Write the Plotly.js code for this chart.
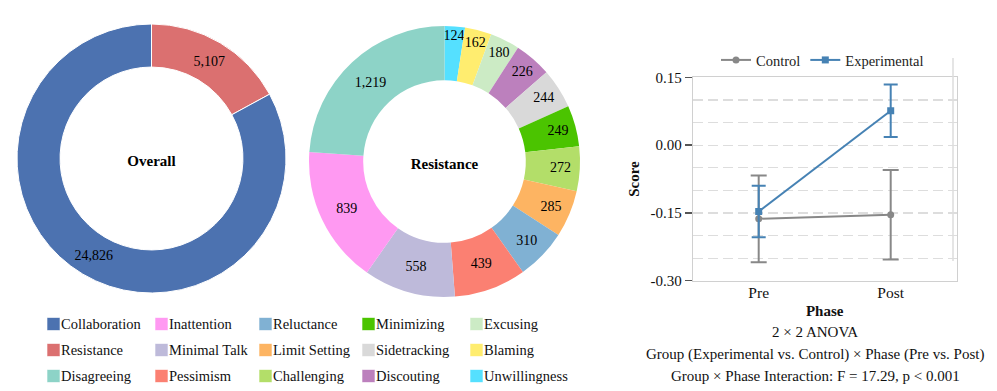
<!DOCTYPE html>
<html>
<head>
<meta charset="utf-8">
<script src="https://cdn.plot.ly/plotly-3.0.1.min.js"></script>
<style>
  html, body { margin: 0; padding: 0; background: #fff; }
  #chart { width: 997px; height: 391px; }
</style>
</head>
<body>
<div id="chart"></div>
<script>
var W = 997, H = 391;
var serif = 'Liberation Serif, Tinos, Nimbus Roman, Times, FreeSerif, Noto Serif, DejaVu Serif';

// overall split
var overallLabels = ['Resistance', 'Collaboration'];
var overallValues = [5107, 24826];
var overallColors = ['#db7070', '#4c72b0'];

// resistance breakdown, clockwise from the top
var resistLabels = ['Unwillingness', 'Blaming', 'Excusing', 'Discouting', 'Sidetracking', 'Minimizing',
  'Challenging', 'Limit Setting', 'Reluctance', 'Pessimism', 'Minimal Talk', 'Inattention', 'Disagreeing'];
var resistValues = [124, 162, 180, 226, 244, 249, 272, 285, 310, 439, 558, 839, 1219];
var resistColors = ['#55e0ff', '#ffed6f', '#ccebc5', '#bc80bd', '#d9d9d9', '#4bc400',
  '#b3de69', '#fdb462', '#80b1d3', '#fb8072', '#bebada', '#ff99f2', '#8dd3c7'];

// legend below the donuts, read column by column
var legendOrder = ['Collaboration', 'Resistance', 'Disagreeing',
  'Inattention', 'Minimal Talk', 'Pessimism',
  'Reluctance', 'Limit Setting', 'Challenging',
  'Minimizing', 'Sidetracking', 'Discouting',
  'Excusing', 'Blaming', 'Unwillingness'];

// interaction plot
var phases = ['Pre', 'Post'];
var controlMean = [-0.163, -0.154];
var controlErr = [0.096, 0.099];
var expMean = [-0.147, 0.076];
var expErr = [0.057, 0.058];
var scoreTicks = [0.15, 0.00, -0.15, -0.30];
var scoreTickText = ['0.15', '0.00', '-0.15', '-0.30'];

var anovaLines = ['2 \u00d7 2 ANOVA',
  'Group (Experimental vs. Control) \u00d7 Phase (Pre vs. Post)',
  'Group \u00d7 Phase Interaction: F = 17.29, p < 0.001'];

function px(x) { return x / W; }
function py(y) { return 1 - y / H; }

var colorOf = {};
overallLabels.forEach(function(l, i) { colorOf[l] = overallColors[i]; });
resistLabels.forEach(function(l, i) { colorOf[l] = resistColors[i]; });

var data = [
  { type: 'pie', labels: overallLabels, values: overallValues,
    sort: false, direction: 'clockwise', rotation: 0, hole: 0.68,
    domain: { x: [px(17), px(286)], y: [py(293), py(24)] },
    marker: { colors: overallColors, line: { color: '#fff', width: 1 } },
    texttemplate: '%{value:,}', textposition: 'inside', insidetextorientation: 'horizontal',
    textfont: { family: serif, size: 14, color: '#000' },
    title: { text: '<b>Overall</b>', position: 'middle center', font: { family: serif, size: 15, color: '#000' } },
    showlegend: false, hoverinfo: 'label+value'
  },
  { type: 'pie', labels: resistLabels, values: resistValues,
    sort: false, direction: 'clockwise', rotation: 0, hole: 0.6,
    domain: { x: [px(309), px(580)], y: [py(297), py(26)] },
    marker: { colors: resistColors, line: { color: '#fff', width: 0 } },
    texttemplate: '%{value:,}', textposition: 'inside', insidetextorientation: 'horizontal',
    textfont: { family: serif, size: 14, color: '#000' },
    title: { text: '<b>Resistance</b>', position: 'middle center', font: { family: serif, size: 15, color: '#000' } },
    showlegend: false, hoverinfo: 'label+value'
  },
  { type: 'scatter', mode: 'lines+markers', name: 'Control', x: phases, y: controlMean,
    line: { color: '#888888', width: 2 },
    marker: { symbol: 'circle', size: 7, color: '#888888' },
    error_y: { type: 'data', array: controlErr, visible: true, color: '#888888', thickness: 2, width: 8 }
  },
  { type: 'scatter', mode: 'lines+markers', name: 'Experimental', x: phases, y: expMean,
    line: { color: '#4682b4', width: 2 },
    marker: { symbol: 'square', size: 7, color: '#4682b4' },
    error_y: { type: 'data', array: expErr, visible: true, color: '#4682b4', thickness: 2, width: 7 }
  }
];

var shapes = [];
var annotations = [];

// legend boxes + labels, 3 rows x 5 columns
var colX = [47, 155, 259, 362, 470];
var rowY = [324, 350, 376];
legendOrder.forEach(function(lab, i) {
  var c = Math.floor(i / 3), r = i % 3;
  var x0 = colX[c], yc = rowY[r];
  shapes.push({ type: 'rect', xref: 'paper', yref: 'paper',
    x0: px(x0), x1: px(x0 + 13), y0: py(yc + 6.5), y1: py(yc - 6.5),
    fillcolor: colorOf[lab], line: { color: 'rgba(255,255,255,0.6)', width: 1 } });
  annotations.push({ xref: 'paper', yref: 'paper', x: px(x0 + 12), y: py(yc),
    xanchor: 'left', yanchor: 'middle', showarrow: false, text: lab,
    font: { family: serif, size: 14.5, color: '#111' } });
});

var anovaY = [332, 354, 376];
anovaLines.forEach(function(t, i) {
  annotations.push({ xref: 'paper', yref: 'paper', x: px(815), y: py(anovaY[i]),
    xanchor: 'center', yanchor: 'middle', showarrow: false, text: t,
    font: { family: serif, size: 15, color: '#111' } });
});

// stray frame line at right of the plot
shapes.push({ type: 'line', xref: 'paper', yref: 'paper', x0: px(953), x1: px(953), y0: py(58), y1: py(261),
  line: { color: '#dcdcdc', width: 1.5 } });

var layout = {
  width: W, height: H,
  margin: { l: 0, r: 0, t: 0, b: 0 },
  paper_bgcolor: '#fff', plot_bgcolor: '#fff',
  font: { family: serif, color: '#111' },
  uniformtext: { mode: 'show', minsize: 14 },
  showlegend: true,
  legend: { orientation: 'h', x: px(716), xanchor: 'left', y: py(60), yanchor: 'middle',
    font: { family: serif, size: 14.5, color: '#222' }, bgcolor: 'rgba(0,0,0,0)' },
  xaxis: {
    domain: [px(692.7), px(956.7)], anchor: 'y',
    type: 'category', range: [-0.5, 1.5],
    showline: true, mirror: true, linecolor: '#d0d0d0', linewidth: 1,
    ticks: '', showgrid: false, zeroline: false, ticklabelstandoff: -2,
    tickfont: { family: serif, size: 15.5, color: '#111' },
    title: { text: '<b>Phase</b>', font: { family: serif, size: 15, color: '#111' }, standoff: 5 }
  },
  yaxis: {
    domain: [py(280.7), py(77.3)], anchor: 'x',
    range: [-0.30, 0.15],
    tickmode: 'array', tickvals: scoreTicks, ticktext: scoreTickText,
    ticks: 'outside', ticklen: 7, tickwidth: 1.5, tickcolor: '#555',
    showline: true, mirror: true, linecolor: '#d0d0d0', linewidth: 1,
    showgrid: true, gridcolor: '#dddddd', gridwidth: 1.2, griddash: '10px,5px',
    minor: { tickmode: 'linear', tick0: 0, dtick: 0.05, showgrid: true, gridcolor: '#dddddd', gridwidth: 1.2, griddash: '10px,5px', ticks: '' },
    zeroline: false,
    tickfont: { family: serif, size: 15, color: '#111' },
    title: { text: '<b>Score</b>', font: { family: serif, size: 15, color: '#111' }, standoff: 7 }
  },
  shapes: shapes,
  annotations: annotations
};

Plotly.newPlot('chart', data, layout, { displayModeBar: false, staticPlot: true });
</script>
</body>
</html>
